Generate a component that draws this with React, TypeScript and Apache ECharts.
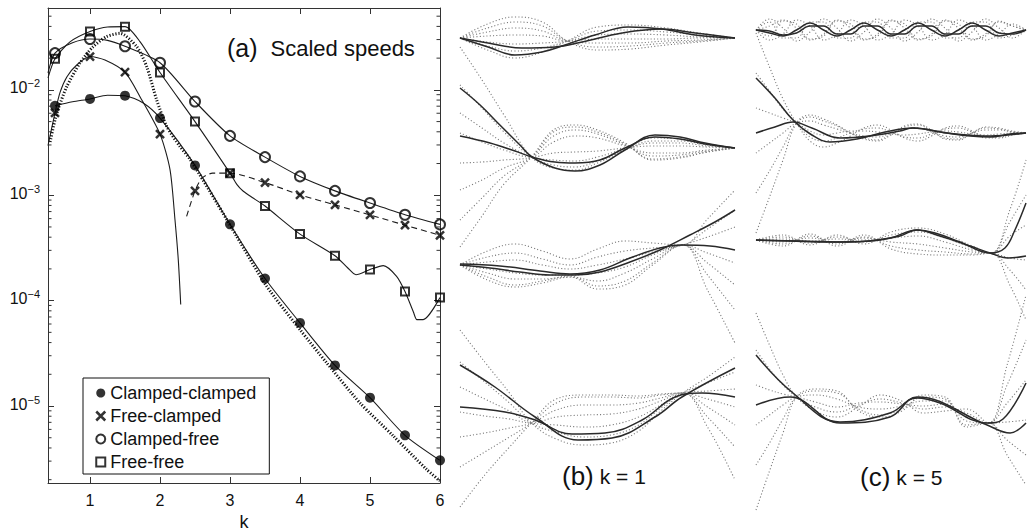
import React, { useEffect, useRef } from "react";
import * as echarts from "echarts";

const FONT = "'Liberation Sans', Arial, Helvetica, sans-serif";
const INK = "#111";

// ---------- Panel (a): scaled speeds against k (log scale) ----------
const X_MIN = 0.4;
const X_MAX = 6;
const Y_MIN = 1.86e-6;
const Y_MAX = 0.0598;

const kMarkers = [0.5, 1, 1.5, 2, 2.5, 3, 3.5, 4, 4.5, 5, 5.5, 6];
const clampedClampedMarks = [7.05e-3, 8.2e-3, 8.8e-3, 5.4e-3, 1.92e-3, 5.3e-4, 1.62e-4, 6.15e-5, 2.43e-5, 1.2e-5, 5.27e-6, 3.05e-6];
const freeClampedMarks = [6.05e-3, 2.07e-2, 1.47e-2, 3.8e-3, 1.1e-3, 1.62e-3, 1.32e-3, 1.01e-3, 8.1e-4, 6.5e-4, 5.2e-4, 4.17e-4];
const clampedFreeMarks = [2.23e-2, 3.04e-2, 2.59e-2, 1.81e-2, 7.75e-3, 3.66e-3, 2.3e-3, 1.51e-3, 1.1e-3, 8.43e-4, 6.53e-4, 5.29e-4];
const freeFreeMarks = [1.97e-2, 3.57e-2, 3.98e-2, 1.46e-2, 5.0e-3, 1.62e-3, 7.9e-4, 4.28e-4, 2.67e-4, 1.97e-4, 1.22e-4, 1.07e-4];

const clampedClampedCurve = [
  [0.5, 7.05e-3], [0.75, 7.7e-3], [1, 8.2e-3], [1.25, 8.9e-3], [1.5, 8.8e-3], [1.76, 7.5e-3], [2, 5.4e-3],
  [2.5, 1.92e-3], [3, 5.3e-4], [3.5, 1.62e-4], [4, 6.15e-5], [4.5, 2.43e-5], [5, 1.2e-5], [5.5, 5.27e-6], [6, 3.05e-6],
];
const freeClampedCurve = [
  [0.4, 2.95e-3], [0.5, 6.05e-3], [0.571, 9.4e-3], [0.671, 1.33e-2], [0.814, 1.73e-2], [1, 2.07e-2], [1.214, 1.92e-2],
  [1.5, 1.47e-2], [1.714, 8.6e-3], [2, 3.8e-3], [2.143, 1.75e-3], [2.214, 5.86e-4], [2.261, 2.45e-4], [2.296, 9.2e-5],
];
const freeClampedUpperBranch = [
  [2.38, 6.3e-4], [2.5, 1.1e-3], [2.6, 1.45e-3], [2.75, 1.62e-3], [3, 1.62e-3], [3.5, 1.32e-3], [4, 1.01e-3],
  [4.5, 8.1e-4], [5, 6.5e-4], [5.5, 5.2e-4], [6, 4.17e-4],
];
const clampedFreeCurve = [
  [0.4, 1.45e-2], [0.5, 2.23e-2], [0.75, 2.8e-2], [1, 3.04e-2], [1.25, 2.95e-2], [1.5, 2.59e-2], [2, 1.81e-2],
  [2.5, 7.75e-3], [3, 3.66e-3], [3.5, 2.3e-3], [4, 1.51e-3], [4.5, 1.1e-3], [5, 8.43e-4], [5.5, 6.53e-4], [6, 5.29e-4],
];
const freeFreeCurve = [
  [0.4, 1.3e-2], [0.5, 1.97e-2], [0.714, 2.85e-2], [1, 3.57e-2], [1.25, 3.95e-2], [1.5, 3.98e-2], [1.714, 2.87e-2],
  [2, 1.46e-2], [2.5, 5.0e-3], [3, 1.62e-3], [3.1, 1.26e-3], [3.19, 1.09e-3], [3.33, 9.4e-4], [3.5, 7.9e-4],
  [4, 4.28e-4], [4.5, 2.67e-4], [4.68, 2.05e-4], [4.8, 1.76e-4], [5, 1.97e-4], [5.19, 2.15e-4], [5.38, 1.7e-4],
  [5.5, 1.22e-4], [5.62, 7.8e-5], [5.67, 6.6e-5], [5.76, 6.6e-5], [6, 1.07e-4],
];
const asymptoteCurve = [
  [0.43, 3.2e-3], [0.5, 5.2e-3], [0.557, 6.9e-3], [0.667, 1.07e-2], [0.857, 1.8e-2], [1.043, 2.56e-2], [1.239, 3.2e-2],
  [1.429, 3.44e-2], [1.667, 2.57e-2], [1.81, 1.66e-2], [1.953, 8.0e-3], [2.096, 4.5e-3], [2.286, 2.9e-3],
  [2.43, 2.19e-3], [2.81, 8.5e-4], [3.096, 4.07e-4], [3.524, 1.37e-4], [4.0, 5.3e-5], [4.381, 2.57e-5],
  [4.857, 1.07e-5], [5.333, 5.2e-6], [5.81, 2.5e-6], [6.0, 1.95e-6],
];

const seriesNames = ["Clamped-clamped", "Free-clamped", "Clamped-free", "Free-free"];
const xMarkPath = "path://M0,0L10,10M10,0L0,10";

// ---------- Panels (b) k = 1 and (c) k = 5: beam snapshots ----------
// x: position along the beam (0..100), values: deflection
const b1SolidA = [[0, 0], [10.2, -9], [20, -17], [29.8, -14], [38.2, -7], [49.1, 3], [61.1, 11], [73.5, 9], [85.5, 3], [100, 0]];
const b1SolidB = [[0, 0], [10.2, -5], [22.5, -10], [34.5, -9], [44.4, -4], [58.9, 5], [73.5, 9], [85.5, 5], [100, 0]];
const b1DotX = [0, 10, 20, 30, 39, 50, 62, 75, 87, 100];
const b1Dots = [
  [0, 14, 21, 16, -3, -12, -11, -7, -4, 0],
  [0, 10, 16, 12, -3, -9, -8, -5, -3, 0],
  [0, 6, 10, 7, -3, -5, -5, -3, -2, 0],
  [0, 2, 3, 2, -3, -1, -1, -1, 0, 0],
  [0, -4, -6, -5, -3, 3, 4, 3, 1, 0],
  [0, -8, -13, -10, -3, 7, 8, 6, 3, 0],
  [0, -12, -20, -14, -3, 11, 13, 10, 5, 0],
];

const b2SolidA = [[0, 60], [7.3, 43], [14.5, 23], [21.8, 3], [26.2, -9], [34.5, -20], [41.8, -23], [50.9, -17], [60, -2], [70.9, 13], [80, 11], [89.1, 5], [100, 0]];
const b2SolidB = [[0, 12], [10.9, 5], [20, -3], [26.2, -9], [34.5, -14], [41.8, -15], [50.9, -12], [60, 0], [70.9, 11], [80, 9], [89.1, 4], [100, 0]];
const b2DotX = [0, 8, 16, 26, 34, 42, 50, 60, 70, 80, 90, 100];
const b2Dots = [
  [101, 68, 33, -9, -20, -22, -15, -2, 10, 9, 4, 0],
  [63, 40, 16, -9, -17, -19, -13, -2, 7, 7, 3, 0],
  [35, 20, 5, -9, -12, -13, -9, -1, 5, 5, 2, 0],
  [15, 6, -2, -9, -5, -4, -3, 0, 2, 2, 1, 0],
  [-15, -14, -12, -9, 6, 12, 10, 2, -5, -5, -2, 0],
  [-42, -32, -20, -9, 12, 18, 14, 3, -8, -7, -3, 0],
  [-72, -50, -28, -9, 16, 21, 16, 4, -11, -9, -4, 0],
  [-99, -68, -36, -9, 18, 23, 18, 5, -12, -10, -4, 0],
];

const b3SolidA = [[0, 0], [10.9, -3], [21.8, -7], [32.7, -10], [41.8, -10], [50.9, -7], [61.8, 3], [72.7, 15], [83.6, 30], [92.7, 43], [100, 55]];
const b3SolidB = [[0, 1], [14.5, -1], [29.1, -6], [40, -9], [50.9, -5], [61.8, 7], [72.7, 17], [80.7, 20], [90.9, 19], [100, 15]];
const b3DotX = [0, 10, 20, 30, 40, 50, 60, 70, 81, 90, 100];
const b3Dots = [
  [0, 14, 21, 14, 6, 16, 24, 22, 20, 46, 75],
  [0, 8, 12, 6, 0, 8, 14, 17, 20, 36, 55],
  [0, 3, 5, 0, -4, 0, 6, 13, 20, 28, 38],
  [0, -4, -8, -10, -10, -8, -2, 10, 20, 12, 2],
  [0, -8, -14, -14, -12, -16, -8, 6, 20, 2, -20],
  [0, -12, -20, -16, -11, -21, -16, 2, 20, -10, -45],
  [0, -15, -22, -18, -12, -24, -20, 0, 20, -25, -78],
];

const b4SolidA = [[0, 42], [12.7, 20], [27.3, -10], [42.9, -33], [55.3, -31], [70.9, -10], [80.7, 10], [100, 39]];
const b4SolidB = [[0, 0], [16.4, -5], [27.3, -13], [40.7, -27], [52.7, -26], [66.2, -13], [78.2, 10], [88, 14], [100, 10]];
const b4DotX = [0, 9, 18, 26, 35, 45, 55, 65, 73, 81, 90, 100];
const b4Dots = [
  [77, 45, 14, -16, -32, -38, -36, -24, -4, 14, 30, 50],
  [45, 25, 4, -16, -25, -30, -28, -18, -1, 14, 24, 35],
  [20, 8, -4, -16, -18, -20, -18, -10, 2, 14, 16, 18],
  [-5, -9, -12, -16, -10, -8, -7, -2, 6, 14, 8, 0],
  [-30, -26, -21, -16, -3, 2, 2, 4, 9, 14, 0, -18],
  [-60, -45, -30, -16, 4, 10, 10, 9, 12, 14, -10, -40],
  [-100, -68, -40, -16, 8, 12, 12, 11, 13, 14, -20, -73],
];

const c1DotX = [0, 5, 10, 15, 20, 25, 30, 35, 40, 45, 50, 55, 60, 65, 70, 75, 80, 85, 90, 95, 100];
const c1SolidA = [0, -3, -6, 0, 7, 0, -6, 0, 7, 0, -6, 0, 7, 0, -6, 0, 7, 0, -6, -3, 0];
const c1SolidB = [0, -1, -5, -3, 4, 4, -4, -4, 4, 4, -4, -4, 4, 4, -4, -4, 4, 4, -3, -4, 0];
const c1Dots = [
  [0, 11, 2, -11, -2, 11, 2, -11, -2, 11, 2, -11, -2, 11, 2, -11, -2, 11, 2, -8, 0],
  [0, -6, 9, 6, -9, -6, 9, 6, -9, -6, 9, 6, -9, -6, 9, 6, -9, -6, 9, 4, 0],
  [0, 8, -8, -8, 8, 8, -8, -8, 8, 8, -8, -8, 8, 8, -8, -8, 8, 8, -8, -5, 0],
  [0, -10, -4, 10, 4, -10, -4, 10, 4, -10, -4, 10, 4, -10, -4, 10, 4, -10, -4, 6, 0],
  [0, 4, 10, 2, -10, -4, 10, 2, -10, -4, 10, 2, -10, -4, 10, 2, -10, -4, 8, 4, 0],
];

const c2SolidA = [[0, 55], [7, 35], [13.7, 13], [20.7, -2], [27.4, -9], [37.4, -6], [47.8, 1], [58.1, 5], [70.7, 0], [79.3, -3], [86.7, -4], [94.1, -1], [100, 0]];
const c2SolidB = [[0, 0], [7, 6], [13.7, 11], [20.7, 5], [31.1, -5], [42.2, -3], [53.3, 2], [58.1, 5], [70.7, 0], [86.7, -3], [100, 0]];
const c2DotX = [0, 5, 10, 15, 20, 25, 30, 35, 40, 45, 50, 55, 60, 65, 70, 75, 80, 85, 90, 95, 100];
const c2Dots = [
  [100, 66, 34, 10, -8, -14, -10, -3, 5, 8, 3, -5, -8, -3, 5, 7, 2, -5, -5, -2, 0],
  [60, 42, 24, 10, -4, -8, -5, 0, 4, 5, 1, -4, -5, -1, 4, 5, 1, -3, -4, -1, 0],
  [25, 20, 15, 10, 2, -2, 0, 2, 2, 1, -1, -2, -1, 1, 2, 1, -1, -2, -1, 0, 0],
  [-20, -10, 0, 10, 12, 8, 4, 0, -3, -4, 0, 4, 5, 1, -3, -4, 0, 3, 3, 1, 0],
  [-60, -38, -14, 10, 16, 12, 7, 0, -5, -7, -1, 6, 8, 2, -5, -6, 0, 5, 4, 1, 0],
  [-100, -64, -27, 10, 18, 14, 8, 0, -6, -8, -2, 7, 9, 3, -6, -7, 0, 6, 5, 2, 0],
];

const c3SolidA = [[0, 0], [12.6, -1], [27.4, -2], [42.2, -1], [53.3, 4], [59.6, 10], [66.3, 7], [75.6, -2], [86.7, -13], [92.2, -8], [95.9, 10], [100, 37]];
const c3SolidB = [[0, 0], [16.3, -1], [34.8, -2], [49.6, 2], [59.6, 10], [68.1, 4], [79.3, -6], [86.7, -13], [93.3, -18], [100, -16]];
const c3DotX = [0, 10, 20, 30, 40, 50, 60, 70, 80, 87, 94, 100];
const c3Dots = [
  [0, 5, -5, 5, -4, 8, 12, 6, -6, -13, 30, 80],
  [0, 3, -3, 3, -2, 5, 8, 2, -8, -13, 18, 45],
  [0, 1, -1, 1, 0, 2, 4, -2, -10, -13, 4, 15],
  [0, -2, 2, -2, 2, -2, -4, -8, -12, -13, -18, -20],
  [0, -4, 4, -4, 3, -6, -10, -12, -14, -13, -30, -50],
  [0, -6, 6, -6, 5, -9, -14, -15, -15, -13, -45, -80],
];

const c4SolidA = [[0, 50], [13.7, 12], [31.1, -17], [49.6, -8], [59.6, 7], [68.1, 2], [85.6, -18], [91.5, -14], [100, 22]];
const c4SolidB = [[0, 0], [12.6, 8], [31.1, -18], [49.6, -12], [59.6, 8], [85.6, -20], [94.1, -28], [100, -18]];
const c4DotX = [0, 5, 10, 15, 22, 30, 38, 46, 54, 62, 70, 78, 86, 93, 100];
const c4Dots = [
  [92, 60, 30, 8, -6, -12, -2, 10, 4, -8, -6, -4, -18, 40, 110],
  [55, 36, 20, 8, -2, -7, 0, 6, 2, -4, -2, -8, -18, 20, 65],
  [20, 15, 11, 8, 3, -2, 2, 3, 1, -1, 1, -12, -18, 2, 25],
  [-20, -10, 0, 8, 10, 6, -2, -4, -1, 4, 4, -16, -18, -17, -15],
  [-60, -38, -14, 8, 14, 12, -4, -10, -4, 8, 6, -20, -18, -35, -50],
  [-105, -66, -28, 8, 16, 14, -6, -12, -6, 10, 8, -22, -18, -50, -80],
];

const zip = (xs: number[], ys: number[]) => xs.map((x, i) => [x, ys[i]]);

// Layout of the small beam plots
const panelBox: Record<string, { left: number; width: number }> = {
  b: { left: 460, width: 275 },
  c: { left: 756, width: 270 },
};
const subpanels = [
  { panel: "b", baseline: 38, range: 38, solids: [b1SolidA, b1SolidB], dotX: b1DotX, dots: b1Dots },
  { panel: "b", baseline: 148, range: 120, solids: [b2SolidA, b2SolidB], dotX: b2DotX, dots: b2Dots },
  { panel: "b", baseline: 265, range: 120, solids: [b3SolidA, b3SolidB], dotX: b3DotX, dots: b3Dots },
  { panel: "b", baseline: 407, range: 120, solids: [b4SolidA, b4SolidB], dotX: b4DotX, dots: b4Dots },
  { panel: "c", baseline: 30, range: 30, solids: [zip(c1DotX, c1SolidA), zip(c1DotX, c1SolidB)], dotX: c1DotX, dots: c1Dots },
  { panel: "c", baseline: 133, range: 120, solids: [c2SolidA, c2SolidB], dotX: c2DotX, dots: c2Dots },
  { panel: "c", baseline: 240, range: 120, solids: [c3SolidA, c3SolidB], dotX: c3DotX, dots: c3Dots },
  { panel: "c", baseline: 405, range: 120, solids: [c4SolidA, c4SolidB], dotX: c4DotX, dots: c4Dots },
];

// Minor tick positions of the log axis (2..9 within each decade)
const minorTickValues: number[] = [];
for (let p = -6; p <= -2; p++) {
  for (let m = 2; m <= 9; m++) {
    const v = m * Math.pow(10, p);
    if (v > Y_MIN && v < Y_MAX) minorTickValues.push(v);
  }
}

function buildOption(): any {
  const grids: any[] = [{ left: 48, top: 8, width: 392, height: 475, outerBoundsMode: "none" }];
  const xAxes: any[] = [];
  const yAxes: any[] = [];
  const series: any[] = [];

  const axisLine = { show: true, lineStyle: { color: "#333", width: 1 } };
  const xCommon = {
    gridIndex: 0, type: "value", min: X_MIN, max: X_MAX, minInterval: 1, maxInterval: 1,
    axisLine, splitLine: { show: false },
    axisTick: { inside: true, length: 6, lineStyle: { color: "#333" } },
  };
  xAxes.push({
    ...xCommon, position: "bottom",
    axisLabel: {
      margin: 9, fontSize: 16, color: INK, fontFamily: FONT,
      formatter: (v: number) => (Math.abs(v - Math.round(v)) < 1e-9 ? String(Math.round(v)) : ""),
    },
    name: "k", nameLocation: "middle", nameGap: 21,
    nameTextStyle: { fontSize: 18, lineHeight: 18, color: INK, fontFamily: FONT },
  });
  xAxes.push({ ...xCommon, position: "top", axisLabel: { show: false } });

  const yCommon = {
    gridIndex: 0, type: "log", logBase: 10, min: Y_MIN, max: Y_MAX,
    axisLine, splitLine: { show: false },
    axisTick: { inside: true, length: 6, lineStyle: { color: "#333" } },
  };
  yAxes.push({
    ...yCommon, position: "left",
    axisLabel: {
      margin: 8, padding: [0, 0, 6, 0],
      formatter: (v: number) => {
        const p = Math.log10(v);
        const r = Math.round(p);
        if (Math.abs(p - r) > 1e-6) return "";
        return `{b|10}{e|\u2212${-r}}`;
      },
      rich: {
        b: { fontSize: 16, color: INK, fontFamily: FONT, lineHeight: 18, verticalAlign: "bottom" },
        e: { fontSize: 11, color: INK, fontFamily: FONT, lineHeight: 8, verticalAlign: "top" },
      },
    },
  });
  yAxes.push({ ...yCommon, position: "right", axisLabel: { show: false } });

  const solidLine = (data: any[], extra: any = {}) => ({
    type: "line", xAxisIndex: 0, yAxisIndex: 0, data, smooth: 0.25,
    showSymbol: false, symbol: "none", silent: true, z: 2,
    lineStyle: { color: "#1c1c1c", width: 1.1, ...extra },
  });
  series.push(solidLine(clampedClampedCurve));
  series.push(solidLine(freeClampedCurve));
  series.push(solidLine(freeClampedUpperBranch, { type: [6, 4] }));
  series.push(solidLine(clampedFreeCurve));
  series.push(solidLine(freeFreeCurve));
  series.push({
    type: "line", xAxisIndex: 0, yAxisIndex: 0, data: asymptoteCurve, smooth: 0.25,
    showSymbol: false, symbol: "none", silent: true, z: 2,
    lineStyle: { color: "#111", width: 3, type: [1.2, 1.8] },
  });

  const markerStyles = [
    { symbol: "circle", symbolSize: 10, itemStyle: { color: "#000", borderWidth: 0 } },
    { symbol: xMarkPath, symbolSize: 8, itemStyle: { color: "#000", borderColor: "#000", borderWidth: 2.5 } },
    { symbol: "circle", symbolSize: 10, itemStyle: { color: "rgba(0,0,0,0)", borderColor: "#000", borderWidth: 2 } },
    { symbol: "rect", symbolSize: 8, itemStyle: { color: "rgba(0,0,0,0)", borderColor: "#000", borderWidth: 2 } },
  ];
  const markValues = [clampedClampedMarks, freeClampedMarks, clampedFreeMarks, freeFreeMarks];
  seriesNames.forEach((name, i) => {
    series.push({
      type: "scatter", name, xAxisIndex: 0, yAxisIndex: 0, z: 4, silent: true,
      data: zip(kMarkers, markValues[i]),
      ...markerStyles[i],
    });
  });

  // log-axis minor ticks on both vertical sides of the box
  series.push({
    type: "custom", xAxisIndex: 0, yAxisIndex: 0, silent: true, z: 5,
    data: minorTickValues.map((v) => [X_MIN, v]),
    renderItem: (_p: any, api: any) => {
      const v = api.value(1);
      const l = api.coord([X_MIN, v]);
      const r = api.coord([X_MAX, v]);
      return {
        type: "group",
        children: [
          { type: "line", shape: { x1: l[0], y1: l[1], x2: l[0] + 3.5, y2: l[1] }, style: { stroke: "#333", lineWidth: 1 } },
          { type: "line", shape: { x1: r[0] - 3.5, y1: r[1], x2: r[0], y2: r[1] }, style: { stroke: "#333", lineWidth: 1 } },
        ],
      };
    },
  });

  // beam snapshot panels
  subpanels.forEach((sp, i) => {
    const box = panelBox[sp.panel];
    const gi = i + 1;
    const ai = i + 2;
    grids.push({ left: box.left, width: box.width, top: sp.baseline - sp.range, height: 2 * sp.range, outerBoundsMode: "none" });
    xAxes.push({ gridIndex: gi, type: "value", min: 0, max: 100, show: false });
    yAxes.push({ gridIndex: gi, type: "value", min: -sp.range, max: sp.range, show: false });
    sp.dots.forEach((row) => {
      series.push({
        type: "line", xAxisIndex: ai, yAxisIndex: ai, data: zip(sp.dotX, row), smooth: 0.4,
        showSymbol: false, symbol: "none", silent: true, clip: false, z: 1,
        lineStyle: { color: "#7a7a7a", width: 1.1, type: [1.1, 2.2] },
      });
    });
    sp.solids.forEach((curve) => {
      series.push({
        type: "line", xAxisIndex: ai, yAxisIndex: ai, data: curve, smooth: 0.4,
        showSymbol: false, symbol: "none", silent: true, clip: false, z: 2,
        lineStyle: { color: "#2a2a2a", width: 1.5 },
      });
    });
  });

  const legendIcons = ["circle", xMarkPath, "circle", "rect"];
  const legendItemStyles = [
    { color: "#000", borderWidth: 0 },
    { color: "#000", borderColor: "#000", borderWidth: 2.5 },
    { color: "rgba(0,0,0,0)", borderColor: "#000", borderWidth: 2 },
    { color: "rgba(0,0,0,0)", borderColor: "#000", borderWidth: 2 },
  ];

  return {
    animation: false,
    backgroundColor: "#fff",
    textStyle: { fontFamily: FONT },
    grid: grids,
    xAxis: xAxes,
    yAxis: yAxes,
    legend: {
      show: true,
      orient: "vertical",
      left: 83,
      top: 378,
      padding: [5, 13, 2, 12],
      itemGap: 3,
      itemWidth: 9,
      itemHeight: 9,
      selectedMode: false,
      borderColor: "#111",
      borderWidth: 1,
      borderRadius: 0,
      backgroundColor: "#fff",
      textStyle: { fontSize: 18, lineHeight: 20, color: INK, fontFamily: FONT },
      data: seriesNames.map((name, i) => ({ name, icon: legendIcons[i], itemStyle: legendItemStyles[i] })),
    },
    graphic: [
      {
        type: "text", x: 227, y: 48, silent: true,
        style: {
          text: "{p|(a)}{t|Scaled speeds}",
          verticalAlign: "middle", align: "left",
          rich: {
            p: { fontSize: 25, fontFamily: FONT, fill: INK },
            t: { fontSize: 22, fontFamily: FONT, fill: INK, padding: [0, 0, 0, 13] },
          },
        },
      },
      {
        type: "text", x: 562, y: 476, silent: true,
        style: {
          text: "{p|(b)}{t|k = 1}",
          verticalAlign: "middle", align: "left",
          rich: {
            p: { fontSize: 26, fontFamily: FONT, fill: INK },
            t: { fontSize: 21, fontFamily: FONT, fill: INK, padding: [0, 0, 0, 6] },
          },
        },
      },
      {
        type: "text", x: 860, y: 477, silent: true,
        style: {
          text: "{p|(c)}{t|k = 5}",
          verticalAlign: "middle", align: "left",
          rich: {
            p: { fontSize: 26, fontFamily: FONT, fill: INK },
            t: { fontSize: 21, fontFamily: FONT, fill: INK, padding: [0, 0, 0, 6] },
          },
        },
      },
    ],
    series,
  };
}

export default function App() {
  const ref = useRef<HTMLDivElement>(null);
  useEffect(() => {
    if (!ref.current) return;
    const chart = echarts.init(ref.current, null, { renderer: "svg" });
    chart.setOption(buildOption());
    return () => chart.dispose();
  }, []);
  return (
    <div
      ref={ref}
      style={{ position: "fixed", left: 0, top: 0, width: 1027, height: 531, background: "#fff" }}
    />
  );
}
